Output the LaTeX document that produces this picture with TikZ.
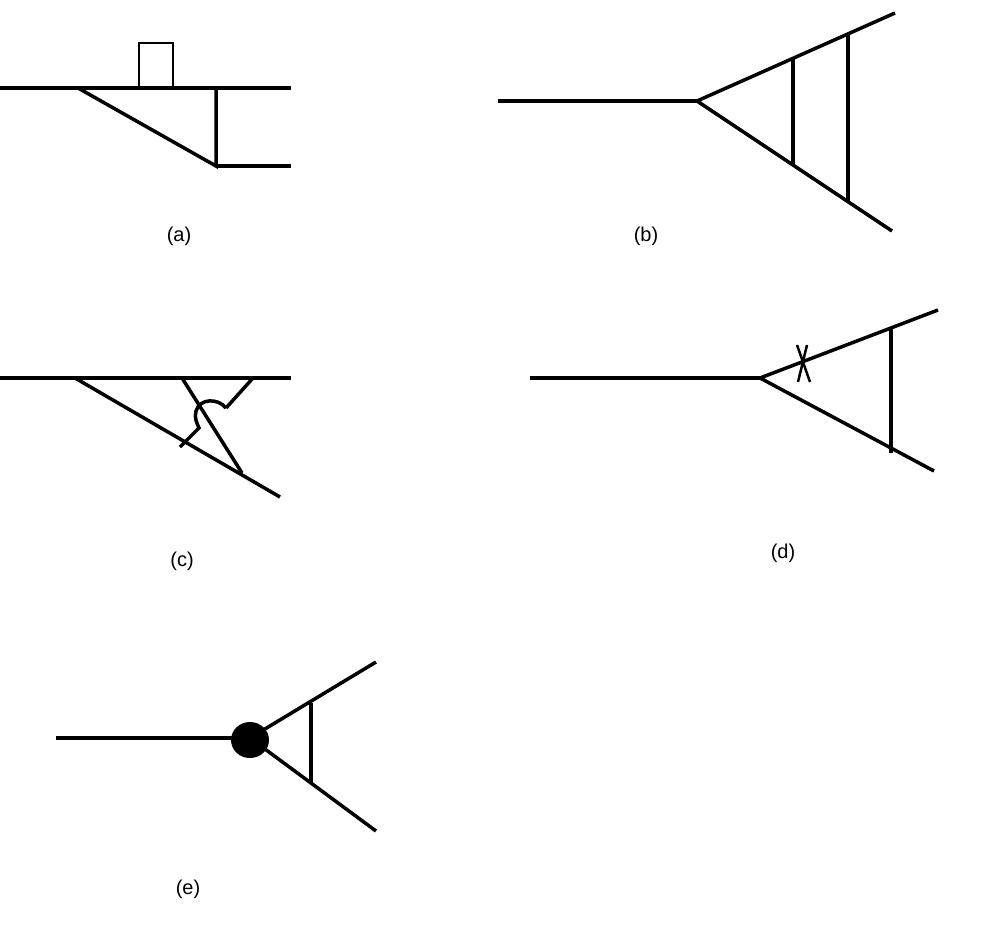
\documentclass[tikz,border=0pt]{standalone}
\usepackage{fontspec}
\setmainfont{Liberation Sans}
\begin{document}
\begin{tikzpicture}[x=1pt,y=-1pt,line width=3.5pt,
  lbl/.style={font=\fontsize{20}{24}\selectfont,inner sep=0pt}]
\useasboundingbox (0,0) rectangle (992,924);
% (a)
\draw (0,88) -- (291,88);
\draw (78,88) -- (216,166) -- (216,88);
\draw (216,166) -- (291,166);
\draw[line width=2pt] (139,88) -- (139,43) -- (173,43) -- (173,88);
\node[lbl] (la) at (179,236) {(a)};
% (b)
\draw (498,101) -- (697,101);
\draw (895,13) -- (697,101) -- (892,231);
\draw (793,58) -- (793,165);
\draw (848,35) -- (848,201);
\node[lbl] (lb) at (646,236) {(b)};
% (c)
\draw (0,378) -- (291,378);
\draw (75,378) -- (280,497);
\draw (182,378) -- (242,473);
\draw (253,378) -- (226,408);
\draw (226,408) .. controls (218,398) and (200,398) .. (196,411) .. controls (194,418) and (197,423) .. (199,428) -- (180,447);
\node[lbl] (lc) at (182,561) {(c)};
% (d)
\draw (530,378) -- (760,378);
\draw (938,310) -- (760,378) -- (934,471);
\draw (891,327) -- (891,453);
\draw[line width=2.5pt] (797,345) -- (810,382);
\draw[line width=2.5pt] (807,345) -- (798,382);
\node[lbl] (ld) at (783,553) {(d)};
% (e)
\draw (56,738) -- (250,738);
\draw (376,662) -- (250,738) -- (376,831);
\draw (311,703) -- (311,784);
\fill (250,740) ellipse (19 and 18);
\node[lbl] (le) at (188,889) {(e)};
\end{tikzpicture}
\end{document}
